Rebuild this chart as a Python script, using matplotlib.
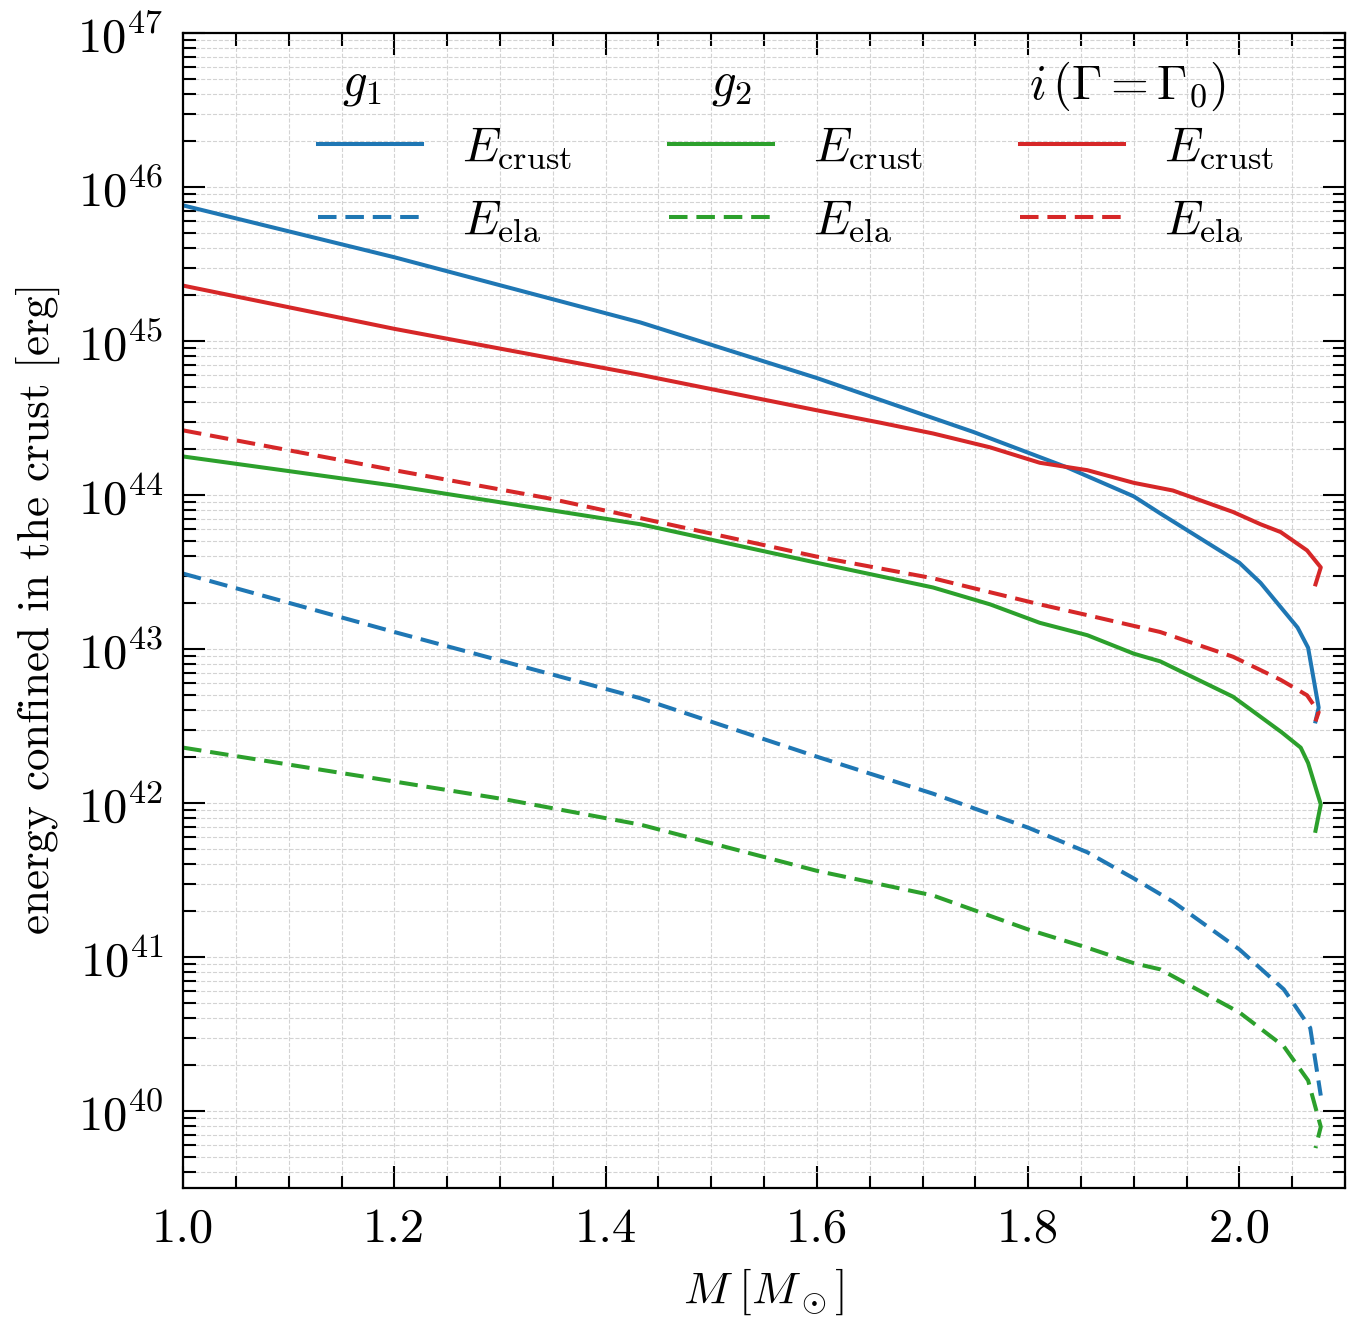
import matplotlib
matplotlib.use("Agg")
import matplotlib.pyplot as plt
from matplotlib.ticker import MultipleLocator, LogLocator, NullFormatter

# ---- data: crust energy vs. stellar mass ----
# g1
m_g1_crust = [1.0, 1.2, 1.433, 1.6, 1.748, 1.837, 1.9, 1.925, 2.0, 2.02, 2.055, 2.065, 2.075, 2.072]
e_g1_crust = [7.6e45, 3.5e45, 1.32e45, 5.75e44, 2.57e44, 1.51e44, 9.8e43, 7.6e43, 3.63e43, 2.69e43,
              1.38e43, 1.02e43, 4.17e42, 3.39e42]
m_g1_ela = [1.0, 1.2, 1.433, 1.6, 1.71, 1.8, 1.856, 1.9, 1.937, 2.0, 2.042, 2.067, 2.077]
e_g1_ela = [3.09e43, 1.29e43, 4.79e42, 2.0e42, 1.15e42, 6.92e41, 4.79e41, 3.24e41, 2.29e41, 1.12e41,
            6.17e40, 3.47e40, 1.26e40]

# g2
m_g2_crust = [1.0, 1.2, 1.433, 1.6, 1.71, 1.764, 1.811, 1.856, 1.9, 1.925, 1.994, 2.02, 2.04, 2.058,
              2.065, 2.077, 2.072]
e_g2_crust = [1.78e44, 1.15e44, 6.46e43, 3.63e43, 2.51e43, 1.95e43, 1.48e43, 1.23e43, 9.33e42, 8.32e42,
              4.90e42, 3.63e42, 2.88e42, 2.29e42, 1.82e42, 9.8e41, 6.6e41]
m_g2_ela = [1.0, 1.2, 1.307, 1.433, 1.6, 1.71, 1.8, 1.856, 1.9, 1.925, 2.0, 2.042, 2.065, 2.077, 2.072]
e_g2_ela = [2.29e42, 1.38e42, 1.05e42, 7.24e41, 3.63e41, 2.51e41, 1.51e41, 1.15e41, 9.12e40, 8.32e40,
            4.37e40, 2.63e40, 1.58e40, 7.9e39, 5.75e39]

# i (Gamma = Gamma_0)
m_i_crust = [1.0, 1.2, 1.433, 1.6, 1.66, 1.71, 1.764, 1.811, 1.856, 1.9, 1.937, 1.994, 2.02, 2.039,
             2.064, 2.077, 2.072]
e_i_crust = [2.29e45, 1.20e45, 6.03e44, 3.55e44, 2.95e44, 2.51e44, 2.04e44, 1.62e44, 1.45e44, 1.20e44,
             1.07e44, 7.76e43, 6.46e43, 5.75e43, 4.37e43, 3.39e43, 2.63e43]
m_i_ela = [1.0, 1.2, 1.345, 1.433, 1.6, 1.71, 1.811, 1.856, 1.925, 1.994, 2.039, 2.064, 2.075, 2.072]
e_i_ela = [2.63e44, 1.45e44, 9.55e43, 7.08e43, 3.98e43, 2.88e43, 1.95e43, 1.66e43, 1.29e43, 8.91e42,
           6.31e42, 5.01e42, 3.89e42, 3.39e42]

model_titles = [r"$g_1$", r"$g_2$", r"$i\,(\Gamma=\Gamma_0)$"]
colors = ["#1f77b4", "#2ca02c", "#d62728"]

# ---- style (LaTeX-ish look) ----
plt.rcParams["font.family"] = "serif"
plt.rcParams["font.serif"] = ["cmr10", "DejaVu Serif"]
plt.rcParams["mathtext.fontset"] = "cm"
plt.rcParams["axes.formatter.use_mathtext"] = True
plt.rcParams["axes.unicode_minus"] = False

fs = 35
fig = plt.figure(figsize=(13.61, 13.37), dpi=100)
ax = fig.add_axes([0.1345, 0.1114, 0.8538, 0.8639])

lw = 2.9
series = [
    (m_g1_crust, e_g1_crust, colors[0], "-"),
    (m_g1_ela, e_g1_ela, colors[0], "--"),
    (m_g2_crust, e_g2_crust, colors[1], "-"),
    (m_g2_ela, e_g2_ela, colors[1], "--"),
    (m_i_crust, e_i_crust, colors[2], "-"),
    (m_i_ela, e_i_ela, colors[2], "--"),
]
handles = []
for m, e, c, ls in series:
    if ls == "--":
        h, = ax.plot(m, e, color=c, lw=lw, dashes=(4.6, 2.2))
    else:
        h, = ax.plot(m, e, color=c, ls=ls, lw=lw)
    handles.append(h)

ax.set_yscale("log")
ax.set_xlim(1.0, 2.1)
ax.set_ylim(10 ** 39.5, 1e47)

ax.xaxis.set_major_locator(MultipleLocator(0.2))
ax.xaxis.set_minor_locator(MultipleLocator(0.05))
ax.yaxis.set_major_locator(LogLocator(base=10, numticks=20))
ax.yaxis.set_minor_locator(LogLocator(base=10, subs=range(2, 10), numticks=20))
ax.yaxis.set_minor_formatter(NullFormatter())
ax.xaxis.set_major_formatter(matplotlib.ticker.FormatStrFormatter("%.1f"))

ax.tick_params(which="both", direction="in", top=True, right=True, labelsize=fs, width=1.5)
ax.tick_params(which="major", length=16, pad=14)
ax.tick_params(which="minor", length=9)
for s in ax.spines.values():
    s.set_linewidth(1.6)

ax.grid(True, which="both", ls="--", color="#d3d3d3", lw=0.8)
ax.set_axisbelow(True)

ax.set_xlabel(r"$M\;[M_\odot]$", fontsize=33, labelpad=11)
ax.set_ylabel(r"energy confined in the crust $[\mathrm{erg}]$", fontsize=32.5, labelpad=11)

labels = [r"$E_\mathrm{crust}$", r"$E_\mathrm{ela}$"] * 3
ax.legend(handles, labels, ncol=3, fontsize=fs, frameon=False, loc="upper left",
          bbox_to_anchor=(0.116, 0.920), borderpad=0, borderaxespad=0,
          handlelength=2.14, handletextpad=0.82, columnspacing=2.0, labelspacing=0.56)

for xt, t in zip([0.154, 0.472, 0.813], model_titles):
    ax.text(xt, 0.954, t, transform=ax.transAxes, ha="center", va="center", fontsize=fs)

fig.savefig("out.png", dpi=100)
